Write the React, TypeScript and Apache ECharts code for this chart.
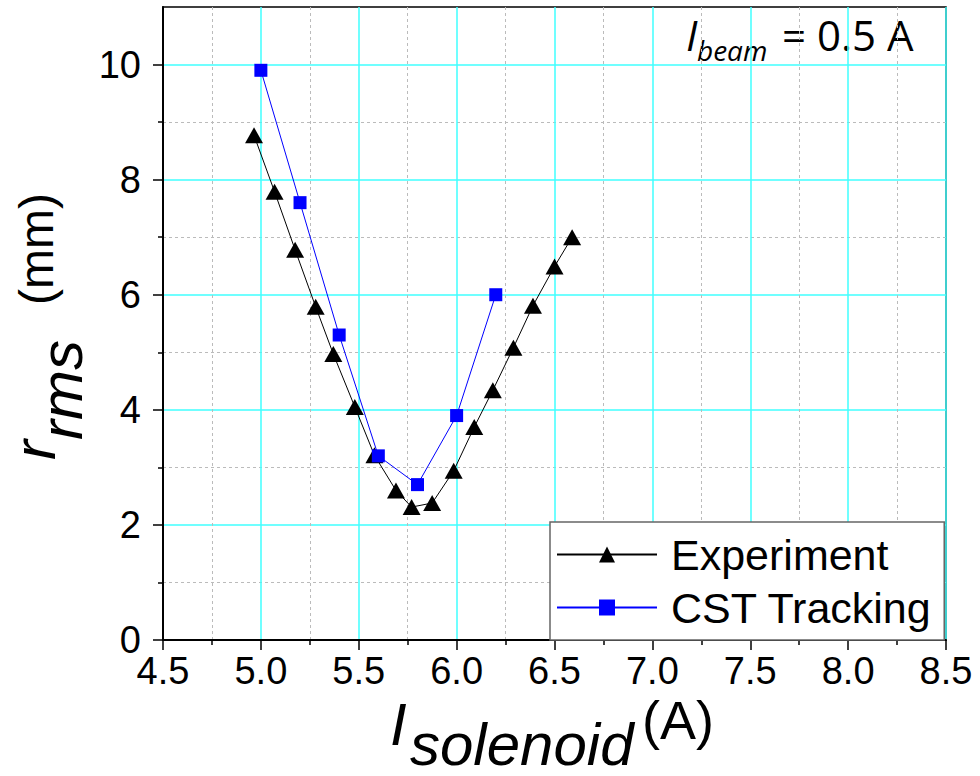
import React, { useEffect, useRef } from 'react';
import * as echarts from 'echarts';

// Measured beam radius versus solenoid current
const experimentX = [4.965, 5.07, 5.175, 5.28, 5.37, 5.48, 5.58, 5.69, 5.77, 5.875, 5.985, 6.09, 6.185, 6.29, 6.39, 6.5, 6.59];
const experimentY = [8.77, 7.79, 6.78, 5.79, 4.97, 4.05, 3.21, 2.6, 2.31, 2.38, 2.94, 3.7, 4.34, 5.08, 5.81, 6.49, 7.0];

// Simulated beam radius (CST particle tracking)
const cstX = [5.0, 5.2, 5.4, 5.6, 5.8, 6.0, 6.2];
const cstY = [9.9, 7.6, 5.3, 3.2, 2.7, 3.9, 6.0];

// Axis ticks
const yMajorTicks = [0, 2, 4, 6, 8, 10];
const yMinorTicks = [1, 3, 5, 7, 9];

const FONT = 'Liberation Sans';
const CYAN = '#40ffff';
const MINOR = '#bbbbbb';

export default function App() {
  const ref = useRef<HTMLDivElement>(null);

  useEffect(() => {
    document.body.style.margin = '0';
    const chart = echarts.init(ref.current!, null, { renderer: 'svg' });

    const tickStyle = { color: '#000', width: 1.5 };
    const pair = (xs: number[], ys: number[]) => xs.map((x, i) => [x, ys[i]]);
    const label = (text: string, x: number, y: number, fontSize: number, italic: boolean, family = FONT) => ({
      type: 'text',
      x,
      y,
      style: {
        text,
        fontSize,
        fontStyle: italic ? 'italic' : 'normal',
        fontFamily: family,
        fill: '#000',
        verticalAlign: 'middle',
        align: 'left',
      },
    });

    chart.setOption({
      animation: false,
      backgroundColor: '#fff',
      grid: {
        left: 163,
        right: 34,
        top: 7,
        bottom: 136,
        show: true,
        borderColor: '#000',
        borderWidth: 1.5,
        backgroundColor: 'transparent',
      },
      xAxis: {
        type: 'value',
        min: 4.5,
        max: 8.5,
        interval: 0.5,
        axisLine: { lineStyle: { color: '#000', width: 2 } },
        axisTick: { length: 10, lineStyle: tickStyle },
        minorTick: { show: true, splitNumber: 2, length: 5, lineStyle: tickStyle },
        splitLine: { show: true, lineStyle: { color: CYAN, width: 1.5 } },
        minorSplitLine: { show: true, lineStyle: { color: MINOR, width: 1, type: [3, 3] } },
        axisLabel: {
          margin: 12,
          fontSize: 38,
          fontFamily: FONT,
          color: '#000',
          formatter: (v: number) => v.toFixed(1),
        },
      },
      yAxis: [
        {
          type: 'value',
          min: 0,
          max: 11,
          interval: 2,
          axisLine: { show: true, lineStyle: { color: '#000', width: 2 } },
          axisTick: { show: true, length: 10, lineStyle: tickStyle, customValues: yMajorTicks },
          splitLine: { show: true, lineStyle: { color: CYAN, width: 1.5 } },
          axisLabel: {
            margin: 22,
            fontSize: 38,
            fontFamily: FONT,
            color: '#000',
            customValues: yMajorTicks,
          },
        },
        {
          type: 'value',
          min: 0,
          max: 11,
          interval: 1,
          position: 'left',
          axisLine: { show: false },
          axisLabel: { show: false },
          axisTick: { show: true, length: 5, lineStyle: tickStyle, customValues: yMinorTicks },
          splitLine: { show: true, lineStyle: { color: MINOR, width: 1, type: [3, 3] } },
        },
      ],
      legend: {
        orient: 'vertical',
        left: 550,
        top: 522,
        itemWidth: 100,
        itemHeight: 20,
        itemGap: 10,
        padding: [11, 12, 11, 6],
        borderColor: '#666',
        borderWidth: 1.5,
        backgroundColor: '#fff',
        textStyle: { fontSize: 43, fontFamily: FONT, color: '#000', padding: [0, 0, 0, 9] },
        data: ['Experiment', 'CST Tracking'],
      },
      series: [
        {
          name: 'Experiment',
          type: 'line',
          data: pair(experimentX, experimentY),
          symbol: 'triangle',
          symbolSize: [18, 16],
          itemStyle: { color: '#000' },
          lineStyle: { color: '#000', width: 1 },
          z: 3,
        },
        {
          name: 'CST Tracking',
          type: 'line',
          data: pair(cstX, cstY),
          symbol: 'rect',
          symbolSize: 13,
          itemStyle: { color: '#0000ff' },
          lineStyle: { color: '#0000ff', width: 1 },
          z: 4,
        },
      ],
      graphic: [
        {
          type: 'group',
          x: 0,
          y: 460,
          rotation: Math.PI / 2,
          children: [
            label('r', 0, 34, 60, true),
            label('rms', 20, 61, 60, true),
            label('(mm)', 155, 36, 48, false),
          ],
        },
        label('I', 390, 724, 60, true),
        label('solenoid', 410, 744, 60, true),
        label('(A)', 642, 720, 54, false),
        label('I', 686, 34, 42, true, 'Open Sans'),
        label('beam', 697, 50, 28, true, 'Open Sans'),
        label('= 0.5 A', 782, 34, 42, false, 'Open Sans'),
      ],
    });

    return () => chart.dispose();
  }, []);

  return <div ref={ref} style={{ width: 980, height: 776 }} />;
}
